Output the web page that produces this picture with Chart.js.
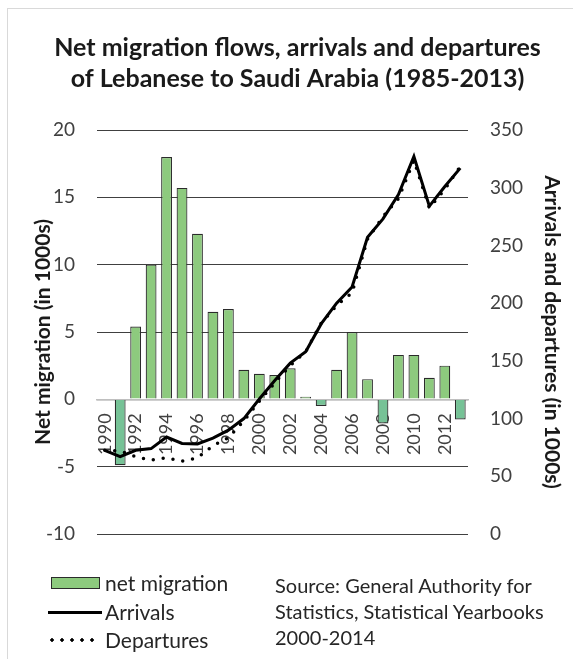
<!DOCTYPE html>
<html>
<head>
<meta charset="utf-8">
<title>Net migration flows, arrivals and departures of Lebanese to Saudi Arabia</title>
<script src="https://cdn.jsdelivr.net/npm/chart.js@4.4.1/dist/chart.umd.min.js"></script>
<style>
    html, body { margin: 0; padding: 0; background: #fff; }
    body {
        width: 573px; height: 659px; position: relative; overflow: hidden;
        font-family: Lato, 'Open Sans', sans-serif; color: #262626;
    }
    #frame {
        position: absolute; left: 7px; top: 8px; width: 620px; height: 700px;
        border-left: 1px solid #d9d9d9; border-top: 1px solid #d9d9d9;
    }
    #chart { position: absolute; left: 0; top: 0; }
    .lg { position: absolute; left: 0; height: 28px; line-height: 28px; font-size: 21px; white-space: nowrap; }
    .lg span { position: absolute; left: 105px; top: 0; }
    .sym { position: absolute; }
    .sym.box { left: 51px; top: 8px; width: 47px; height: 10px; background: #8dca7e; border: 1px solid #2b2b2b; }
    .sym.solid { left: 48px; top: 13px; width: 54px; height: 3px; background: #000; }
    .sym.dots {
        left: 47px; top: 12px; width: 52px; height: 4px;
        background: radial-gradient(circle, #000 1.5px, transparent 1.9px) 0 0 / 10px 4px repeat-x;
    }
    #source { position: absolute; left: 275px; top: 572px; font-size: 20px; line-height: 26px; white-space: nowrap; }
</style>
</head>
<body>
<div id="frame"></div>
<canvas id="chart" width="573" height="659"></canvas>

<div class="lg" style="top:569px"><div class="sym box"></div><span>net migration</span></div>
<div class="lg" style="top:598px"><div class="sym solid"></div><span>Arrivals</span></div>
<div class="lg" style="top:626px"><div class="sym dots"></div><span>Departures</span></div>

<div id="source">Source: General Authority for<br>Statistics, Statistical Yearbooks<br>2000-2014</div>

<script>
// ---- данные (в тысячах) ----
const years = ['1990', '1991', '1992', '1993', '1994', '1995', '1996', '1997', '1998', '1999', '2000', '2001',
               '2002', '2003', '2004', '2005', '2006', '2007', '2008', '2009', '2010', '2011', '2012', '2013'];

const netMigration = [0, -4.9, 5.4, 10.0, 18.0, 15.7, 12.3, 6.5, 6.7, 2.2, 1.9, 1.8,
                      2.3, 0.2, -0.5, 2.2, 5.0, 1.5, -1.8, 3.3, 3.3, 1.6, 2.5, -1.5];

const arrivals = [72.5, 67, 72.5, 74, 84, 78.5, 78, 83, 90, 100, 117, 133,
                  148, 158, 182, 200, 214, 257, 273, 294, 327, 284, 301, 317];

const departures = [72.5, 72, 67, 64, 66, 63, 66, 76.5, 83.5, 98, 115, 131,
                    146, 158, 182.5, 198, 209, 255.5, 275, 290.5, 323.5, 282.5, 298.5, 318.5];

const leftTicks = [-10, -5, 0, 5, 10, 15, 20];
const rightTicks = [0, 50, 100, 150, 200, 250, 300, 350];

// ---- настройки ----
const FONT = "Lato, 'Open Sans', sans-serif";
Chart.defaults.font.family = FONT;
Chart.defaults.color = '#404040';

const GREEN = '#8dca7e';
const TEAL = '#76c296';

new Chart(document.getElementById('chart').getContext('2d'), {
    data: {
        labels: years,
        datasets: [
            {
                type: 'line',
                label: 'Arrivals',
                data: arrivals,
                yAxisID: 'y1',
                borderColor: '#000',
                borderWidth: 3,
                pointRadius: 0,
                tension: 0,
                order: 1
            },
            {
                type: 'line',
                label: 'Departures',
                data: departures,
                yAxisID: 'y1',
                borderColor: '#000',
                borderWidth: 3.5,
                borderDash: [0, 10],
                borderCapStyle: 'round',
                pointRadius: 0,
                tension: 0,
                order: 2
            },
            {
                type: 'bar',
                label: 'net migration',
                data: netMigration,
                yAxisID: 'y',
                backgroundColor: ctx => (ctx.raw < 0 ? TEAL : GREEN),
                borderColor: '#2b2b2b',
                borderWidth: 1.2,
                barPercentage: 0.7,
                categoryPercentage: 1,
                order: 3
            }
        ]
    },
    options: {
        responsive: false,
        animation: false,
        layout: { padding: { top: 32, left: 27, right: 5, bottom: 125 } },
        plugins: {
            legend: { display: false },
            tooltip: { enabled: false },
            title: {
                display: true,
                text: ['Net migration flows, arrivals and departures', 'of Lebanese to Saudi Arabia (1985-2013)'],
                color: '#1a1a1a',
                font: { size: 25, weight: 'bold', lineHeight: 1.24 },
                padding: { top: 0, bottom: 36 }
            }
        },
        scales: {
            x: {
                position: { y: 0 },
                offset: true,
                grid: { display: false, drawTicks: false },
                border: { display: true, color: '#bfbfbf', width: 1.5 },
                ticks: {
                    autoSkip: false,
                    minRotation: 90,
                    maxRotation: 90,
                    padding: 14,
                    font: { size: 18 },
                    callback: function(v, i) { return i % 2 === 0 ? this.getLabelForValue(v) : ''; }
                }
            },
            y: {
                position: 'left',
                min: leftTicks[0],
                max: leftTicks[leftTicks.length - 1],
                ticks: { stepSize: leftTicks[1] - leftTicks[0], padding: 22, font: { size: 19 } },
                grid: {
                    drawTicks: false,
                    color: c => (c.tick.value === 0 ? '#bfbfbf' : '#404040'),
                    lineWidth: c => (c.tick.value === 0 ? 1.5 : 1)
                },
                border: { display: false },
                title: {
                    display: true,
                    text: 'Net migration (in 1000s)',
                    color: '#1a1a1a',
                    font: { size: 21, weight: 'bold' },
                    padding: { top: 4, bottom: 4 }
                },
                afterFit: s => { s.width = 70; }
            },
            y1: {
                position: 'right',
                min: rightTicks[0],
                max: rightTicks[rightTicks.length - 1],
                ticks: { stepSize: rightTicks[1] - rightTicks[0], padding: 22, font: { size: 19 } },
                grid: { display: false, drawTicks: false },
                border: { display: false },
                title: {
                    display: true,
                    text: 'Arrivals and departures (in 1000s)',
                    color: '#1a1a1a',
                    font: { size: 21, weight: 'bold' },
                    padding: { top: 4, bottom: 4 }
                },
                afterFit: s => { s.width = 100; }
            }
        }
    }
});
</script>
</body>
</html>
